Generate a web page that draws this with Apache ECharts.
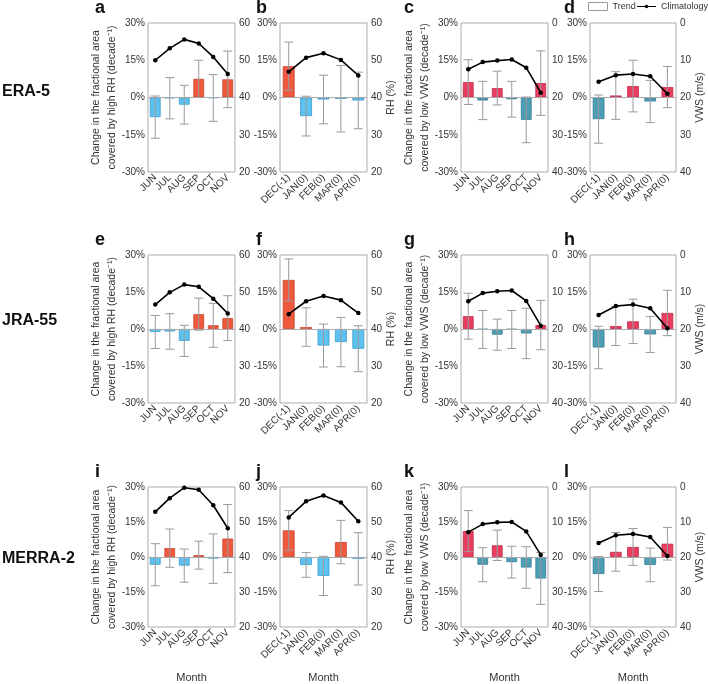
<!DOCTYPE html>
<html>
<head>
<meta charset="utf-8">
<script src="https://cdn.jsdelivr.net/npm/echarts@6/dist/echarts.min.js"></script>
<style>
html,body{margin:0;padding:0;background:#fff;}
#chart{width:708px;height:684px;}
</style>
</head>
<body>
<div id="chart"></div>
<script>
// ---------- DATA ----------
const monthsSummer = ['JUN','JUL','AUG','SEP','OCT','NOV'];
const monthsWinter = ['DEC(-1)','JAN(0)','FEB(0)','MAR(0)','APR(0)'];
const datasets = ['ERA-5','JRA-55','MERRA-2'];
const panelLetters = ['a','b','c','d','e','f','g','h','i','j','k','l'];

// Trend (% per decade), error half-width, climatology
const trendA = [-7.9, -0.3, -2.9, 7.5, -0.2, 7.3];
const errA   = [8.5, 8.3, 7.8, 7.5, 9.4, 11.4];
const climA  = [50.0, 53.2, 55.6, 54.5, 50.9, 46.3];

const trendB = [12.6, -7.5, -0.8, -0.5, -1.2];
const errB   = [9.7, 8.0, 9.8, 13.4, 11.4];
const climB  = [46.9, 50.7, 51.9, 50.1, 45.9];

const trendC = [6.2, -1.2, 3.8, -0.7, -9.0, 5.8];
const errC   = [9.0, 7.7, 6.8, 7.2, 9.2, 13.0];
const climC  = [12.4, 10.5, 10.1, 9.8, 12.0, 18.7];

const trendD = [-8.7, 0.8, 4.6, -1.6, 4.2];
const errD   = [9.7, 9.6, 10.4, 8.5, 8.3];
const climD  = [15.8, 14.0, 13.7, 14.3, 19.0];

const trendE = [-1.2, -1.0, -4.8, 6.0, 1.5, 4.4];
const errE   = [6.7, 7.2, 6.3, 6.5, 8.9, 9.1];
const climE  = [46.6, 49.9, 52.0, 51.4, 48.2, 44.2];

const trendF = [19.9, 0.8, -6.7, -5.3, -8.0];
const errF   = [8.5, 7.8, 8.7, 10.0, 9.3];
const climF  = [44.0, 47.5, 48.9, 47.8, 44.3];

const trendG = [5.2, -0.2, -2.3, -0.2, -1.8, 1.6];
const errG   = [9.3, 7.7, 6.3, 7.7, 10.2, 10.0];
const climG  = [12.5, 10.3, 9.8, 9.6, 12.4, 19.1];

const trendH = [-7.5, 1.2, 3.1, -2.2, 6.5];
const errH   = [8.6, 7.9, 9.0, 7.3, 9.2];
const climH  = [16.2, 13.8, 13.4, 14.4, 19.8];

const trendI = [-3.3, 3.8, -3.7, 0.8, -0.7, 7.9];
const errI   = [9.0, 8.2, 7.1, 6.0, 10.6, 14.6];
const climI  = [52.9, 56.8, 59.8, 59.2, 54.8, 48.2];

const trendJ = [11.4, -3.4, -8.1, 6.4, -0.8];
const errJ   = [8.5, 5.3, 8.4, 9.3, 11.2];
const climJ  = [51.3, 55.9, 57.6, 55.6, 50.2];

const trendK = [11.1, -3.3, 5.0, -2.2, -4.5, -9.2];
const errK   = [8.8, 7.3, 6.5, 6.8, 8.9, 11.1];
const climK  = [12.9, 10.6, 10.1, 10.0, 12.7, 19.4];

const trendL = [-7.3, 2.2, 4.3, -3.4, 5.7];
const errL   = [7.5, 8.3, 7.9, 7.2, 7.0];
const climL  = [16.0, 13.8, 13.4, 14.3, 19.7];

const trendTicks = [-30, -15, 0, 15, 30];
const rhRange = [20, 60];
const vwsRange = [0, 40];

const panels = [
  {cats: monthsSummer, trend: trendA, err: errA, clim: climA, kind: 'RH'},
  {cats: monthsWinter, trend: trendB, err: errB, clim: climB, kind: 'RH'},
  {cats: monthsSummer, trend: trendC, err: errC, clim: climC, kind: 'VWS'},
  {cats: monthsWinter, trend: trendD, err: errD, clim: climD, kind: 'VWS'},
  {cats: monthsSummer, trend: trendE, err: errE, clim: climE, kind: 'RH'},
  {cats: monthsWinter, trend: trendF, err: errF, clim: climF, kind: 'RH'},
  {cats: monthsSummer, trend: trendG, err: errG, clim: climG, kind: 'VWS'},
  {cats: monthsWinter, trend: trendH, err: errH, clim: climH, kind: 'VWS'},
  {cats: monthsSummer, trend: trendI, err: errI, clim: climI, kind: 'RH'},
  {cats: monthsWinter, trend: trendJ, err: errJ, clim: climJ, kind: 'RH'},
  {cats: monthsSummer, trend: trendK, err: errK, clim: climK, kind: 'VWS'},
  {cats: monthsWinter, trend: trendL, err: errL, clim: climL, kind: 'VWS'}
];

// ---------- LAYOUT / STYLE ----------
const FONT = "'Liberation Sans', Arial, sans-serif";
const colLeft = [148, 280, 461, 590];
const colWidth = [87, 87, 87, 86];
const rowTop = [23, 255, 487];
const rowHeight = [149, 148, 147];
const palette = {
  RH:  {pos: '#EF5A3F', posB: '#C9432C', neg: '#5DC2EF', negB: '#3C9ACB'},
  VWS: {pos: '#EA3E60', posB: '#C22A48', neg: '#4D9DB4', negB: '#357F95'}
};
const GRID_C = '#ABABAB';
const LABEL_C = '#333';

const grids = [], xAxes = [], yAxes = [], series = [], graphics = [];

panels.forEach((p, i) => {
  const row = Math.floor(i / 4), col = i % 4;
  grids.push({
    left: colLeft[col], top: rowTop[row], width: colWidth[col], height: rowHeight[row],
    show: true, borderColor: GRID_C, borderWidth: 1, backgroundColor: '#fff'
  });
  xAxes.push({
    type: 'category', gridIndex: i, data: p.cats,
    axisLine: {show: false}, axisTick: {show: false},
    axisLabel: {rotate: 45, interval: 0, fontSize: 10, color: LABEL_C, fontFamily: FONT, margin: 4},
    name: row === 2 ? 'Month' : '', nameLocation: 'middle', nameGap: 45,
    nameTextStyle: {fontSize: 11, color: LABEL_C, fontFamily: FONT}
  });
  const leftName = col === 0 ? 'Change in the fractional area\ncovered by high RH (decade\u207B\u00B9)'
                 : col === 2 ? 'Change in the fractional area\ncovered by low VWS (decade\u207B\u00B9)' : '';
  yAxes.push({
    type: 'value', gridIndex: i, position: 'left',
    min: trendTicks[0], max: trendTicks[trendTicks.length - 1], interval: 15,
    axisLine: {show: false}, axisTick: {show: false}, splitLine: {show: false},
    axisLabel: {formatter: '{value}%', fontSize: 10, color: LABEL_C, fontFamily: FONT, margin: 3},
    name: leftName, nameLocation: 'middle', nameGap: 28, nameMoveOverlap: false,
    nameTextStyle: {fontSize: 10.5, color: LABEL_C, fontFamily: FONT, lineHeight: 16}
  });
  const rng = p.kind === 'RH' ? rhRange : vwsRange;
  const rightName = col === 1 ? 'RH (%)' : col === 3 ? 'VWS (m/s)' : '';
  yAxes.push({
    type: 'value', gridIndex: i, position: 'right',
    min: rng[0], max: rng[1], interval: 10, inverse: p.kind === 'VWS',
    axisLine: {show: false}, axisTick: {show: false}, splitLine: {show: false},
    axisLabel: {fontSize: 10, color: LABEL_C, fontFamily: FONT, margin: 4},
    name: rightName, nameLocation: 'middle', nameGap: 17,
    nameTextStyle: {fontSize: 10.5, color: LABEL_C, fontFamily: FONT}
  });
  const pal = palette[p.kind];
  series.push({
    name: 'Trend', type: 'bar', xAxisIndex: i, yAxisIndex: 2 * i,
    barWidth: p.cats.length === 6 ? '74%' : '68%',
    data: p.trend.map(v => ({
      value: v,
      itemStyle: {color: v >= 0 ? pal.pos : pal.neg, borderColor: v >= 0 ? pal.posB : pal.negB, borderWidth: 0.8}
    })),
    markLine: {
      silent: true, symbol: 'none', animation: false,
      label: {show: false},
      lineStyle: {color: GRID_C, type: 'solid', width: 1},
      data: [{yAxis: 0}]
    },
    z: 2
  });
  series.push({
    name: 'err' + i, type: 'custom', xAxisIndex: i, yAxisIndex: 2 * i,
    data: p.trend.map((v, k) => [k, v, p.err[k]]),
    renderItem: function (params, api) {
      const k = api.value(0), v = api.value(1), e = api.value(2);
      const top = api.coord([k, v + e]);
      const bot = api.coord([k, v - e]);
      const cap = 4.5;
      const st = {stroke: '#9A9A9A', lineWidth: 1};
      return {
        type: 'group', children: [
          {type: 'line', shape: {x1: top[0], y1: top[1], x2: bot[0], y2: bot[1]}, style: st},
          {type: 'line', shape: {x1: top[0] - cap, y1: top[1], x2: top[0] + cap, y2: top[1]}, style: st},
          {type: 'line', shape: {x1: bot[0] - cap, y1: bot[1], x2: bot[0] + cap, y2: bot[1]}, style: st}
        ]
      };
    },
    z: 3, silent: true
  });
  series.push({
    name: 'Climatology', type: 'line', xAxisIndex: i, yAxisIndex: 2 * i + 1,
    data: p.clim, symbol: 'circle', symbolSize: 4.5, showSymbol: true,
    lineStyle: {color: '#000', width: 1.6}, itemStyle: {color: '#000'}, z: 5
  });
  graphics.push({
    type: 'text', left: [95, 256, 404, 564][col], top: rowTop[row] - 24,
    style: {text: panelLetters[i], font: "bold 18px " + FONT, fill: '#111'}
  });
});

datasets.forEach((d, r) => {
  graphics.push({
    type: 'text', left: 2, top: [84, 313, 551][r],
    style: {text: d, font: "bold 16px " + FONT, fill: '#111'}
  });
});

const climIcon = 'path://M0,3.4h22v1.3h-22z M13,4a2,2 0 1,1 -4,0a2,2 0 1,1 4,0z';

const chart = echarts.init(document.getElementById('chart'), null, {renderer: 'canvas'});
chart.setOption({
  animation: false,
  backgroundColor: '#fff',
  legend: [
    {
      left: 588, top: 2, itemWidth: 19, itemHeight: 8, padding: 0,
      textStyle: {fontSize: 9, color: LABEL_C, fontFamily: FONT},
      data: [{name: 'Trend', icon: 'rect', itemStyle: {color: '#fff', borderColor: '#9A9A9A', borderWidth: 1}}]
    },
    {
      left: 637, top: 2, itemWidth: 19, itemHeight: 8, padding: 0,
      textStyle: {fontSize: 9, color: LABEL_C, fontFamily: FONT},
      data: [{name: 'Climatology', icon: climIcon, itemStyle: {color: '#000'}}]
    }
  ],
  grid: grids, xAxis: xAxes, yAxis: yAxes, series: series, graphic: graphics
});
</script>
</body>
</html>
